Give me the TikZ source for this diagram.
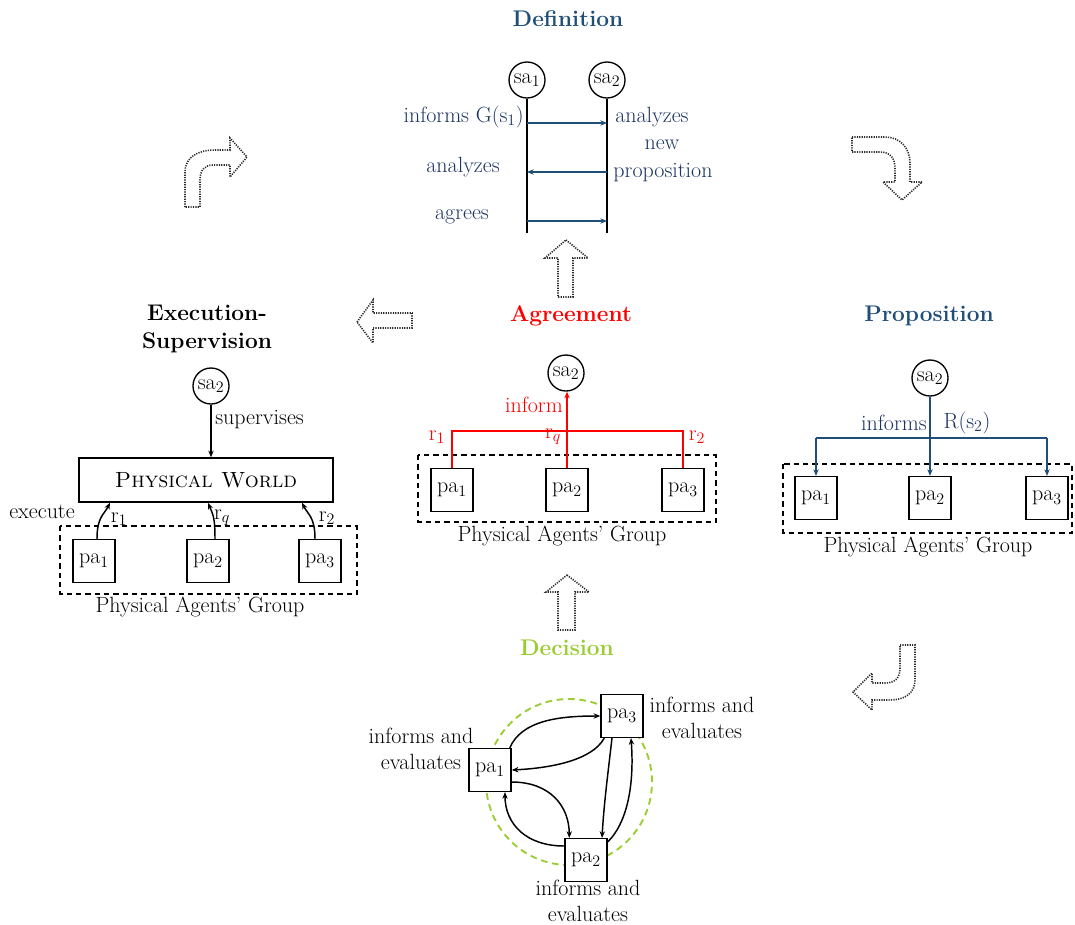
\documentclass[tikz,border=0pt]{standalone}
\usetikzlibrary{arrows.meta,calc}
\definecolor{navy}{RGB}{31,78,121}
\definecolor{navytext}{RGB}{28,52,98}
\definecolor{leaf}{RGB}{154,205,50}
\definecolor{hollow}{RGB}{45,45,45}

\begin{document}
\begin{tikzpicture}[x=0.75pt,y=-0.75pt,
  txt/.style={font=\fontsize{16.5}{19}\selectfont, inner sep=0pt},
  ttl/.style={font=\fontsize{17}{21}\selectfont\bfseries, inner sep=0pt, align=center},
  pabox/.style={draw, line width=1.1pt, minimum width=31.5pt, minimum height=32pt, inner sep=0pt, font=\fontsize{16.5}{19}\selectfont},
  sanode/.style={circle, draw, line width=1pt, minimum size=27pt, inner sep=0pt, font=\fontsize{16.5}{19}\selectfont},
  group/.style={draw, line width=0.9pt, dash pattern=on 4pt off 3pt},
  tip/.style={-{Stealth[length=5pt,width=4pt]}},
  link/.style={line width=1.1pt},
  hollowarrow/.style={draw=hollow, line width=1.2pt, dash pattern=on 0.9pt off 0.9pt, line join=miter},
  pair/.style={txt, align=center, font=\fontsize{16.5}{19.5}\selectfont},
]
\useasboundingbox (0,0) rectangle (1075,925);
\fill[white] (0,0) rectangle (1075,925);

% ---------------- Definition ----------------
\node[ttl, text=navy] (tdef) at (568,19) {Definition};
\node[sanode] (s1) at (527,80) {sa$_1$};
\node[sanode] (s2) at (607,80) {sa$_2$};
\coordinate (e1) at (527,233);
\coordinate (e2) at (607,233);
\draw[line width=1.3pt] (s1.south) -- (e1);
\draw[line width=1.3pt] (s2.south) -- (e2);
\draw[link, navy, tip] (s1.south |- 0,123) -- (s2.south |- 0,123);
\draw[link, navy, tip] (s2.south |- 0,172) -- (s1.south |- 0,172);
\draw[link, navy, tip] (s1.south |- 0,221) -- (s2.south |- 0,221);
\node[txt, text=navytext, anchor=east] (l1) at (524,117) {informs G(s$_1$)};
\node[txt, text=navytext, anchor=west] (l2) at (615,117) {analyzes};
\node[txt, text=navytext] (l3) at (662,145) {new};
\node[txt, text=navytext] (l4) at (663,173) {proposition};
\node[txt, text=navytext] (l5) at (463,167) {analyzes};
\node[txt, text=navytext] (l6) at (462,217) {agrees};

% ---------------- Agreement ----------------
\node[ttl, text=red] (tagr) at (571,316) {Agreement};
\node[sanode] (as) at (566,373) {sa$_2$};
\draw[group] (418,455) rectangle (716,522);
\node[pabox] (ap1) at (452,490) {pa$_1$};
\node[pabox] (ap2) at (567,490) {pa$_2$};
\node[pabox] (ap3) at (683,490) {pa$_3$};
\draw[link, red] (ap1.north) |- (ap3.north |- 0,431) -- (ap3.north);
\draw[link, red, tip] (ap2.north) -- (ap2.north |- as.south);
\node[txt, text=red, anchor=east] (ainf) at (563,405) {inform};
\node[txt, text=red] (ar1) at (437,437) {r$_1$};
\node[txt, text=red] (arq) at (553,437) {r$_q$};
\node[txt, text=red] (ar2) at (697,437) {r$_2$};
\node[txt] (ag) at (562,536) {Physical Agents' Group};

% ---------------- Proposition ----------------
\node[ttl, text=navy] (tprop) at (929,316) {Proposition};
\node[sanode] (ps) at (930,378) {sa$_2$};
\draw[group] (783,464) rectangle (1072,533);
\node[pabox] (pp1) at (816,498) {pa$_1$};
\node[pabox] (pp2) at (930,498) {pa$_2$};
\node[pabox] (pp3) at (1047,498) {pa$_3$};
\draw[link, navy] (ps.south) -- (ps.south |- 0,438);
\draw[link, navy] (pp1.north |- 0,438) -- (pp3.north |- 0,438);
\draw[link, navy, tip] (pp1.north |- 0,438) -- (pp1.north);
\draw[link, navy, tip] (pp2.north |- 0,438) -- (pp2.north);
\draw[link, navy, tip] (pp3.north |- 0,438) -- (pp3.north);
\node[txt, text=navytext, anchor=east] (pinf) at (927,423) {informs};
\node[txt, text=navytext] (pr) at (967,423) {R(s$_2$)};
\node[txt] (pg) at (928,547) {Physical Agents' Group};

% ---------------- Execution-Supervision ----------------
\node[ttl] (texe) at (207,329) {Execution-\\Supervision};
\node[sanode] (es) at (211,386) {sa$_2$};
\node[draw, line width=1.1pt, minimum width=190.5pt, minimum height=33pt, inner sep=0pt,
      font=\fontsize{16.5}{19}\selectfont] (pw) at (206,480) {\textsc{Physical World}};
\draw[link, tip] (es.south) -- (es.south |- pw.north);
\node[txt, anchor=west] (sup) at (215,420) {supervises};
\draw[group] (60,526) rectangle (357,594);
\node[pabox] (ep1) at (94,561) {pa$_1$};
\node[pabox] (ep2) at (208,561) {pa$_2$};
\node[pabox] (ep3) at (320,561) {pa$_3$};
\draw[link, tip] ([xshift=2.25pt]ep1.north) .. controls +(0,-22) and +(-6,12) .. (pw.south -| 110,0);
\draw[link, tip] ([xshift=5.25pt]ep2.north) .. controls +(0,-22) and +(5,12) .. (pw.south -| 208,0);
\draw[link, tip] ([xshift=-3.75pt]ep3.north) .. controls +(0,-22) and +(6,12) .. (pw.south -| 302,0);
\node[txt] (exe) at (42,512) {execute};
\node[txt] (er1) at (119,519) {r$_1$};
\node[txt] (erq) at (222,518) {r$_q$};
\node[txt] (er2) at (327,518) {r$_2$};
\node[txt] (eg) at (200,607) {Physical Agents' Group};

% ---------------- Decision ----------------
\node[ttl, text=leaf] (tdec) at (567,648) {Decision};
\draw[leaf, line width=1.4pt, dash pattern=on 5pt off 3.5pt] (569,782) circle[radius=62.25pt];
\node[pabox, fill=white] (dp3) at (622,716) {pa$_3$};
\node[pabox, fill=white] (dp1) at (490,770) {pa$_1$};
\node[pabox, fill=white] (dp2) at (586,860) {pa$_2$};
\draw[link, tip] ([xshift=-1.5pt]dp1.north east) .. controls +(12,-28) and +(-40,0) .. (dp3.west);
\draw[link, tip] ([xshift=3pt]dp3.south west) .. controls +(-12,22) and +(40,-2) .. (dp1.east);
\draw[link, tip] ([yshift=-9pt]dp1.east) .. controls +(38,0) and +(0,-32) .. ([xshift=3.75pt]dp2.north west);
\draw[link, tip] ([yshift=10.5pt]dp2.west) .. controls +(-38,0) and +(0,32) .. ([xshift=11.25pt]dp1.south);
\draw[link, tip] ([xshift=-7.5pt]dp3.south) .. controls +(-4,35) and +(2,-35) .. ([xshift=12pt]dp2.north);
\draw[link, tip] ([yshift=-3pt]dp2.north east) .. controls +(22,-22) and +(3,40) .. ([xshift=6.75pt]dp3.south);
\node[pair] (d1) at (421,749) {informs and\\evaluates};
\node[pair] (d3) at (702,718) {informs and\\evaluates};
\node[pair] (d2) at (588,901) {informs and\\evaluates};

% ---------------- hollow dotted flow arrows ----------------
% curved, top left
\path[hollowarrow] (185,207) -- (185,172) .. controls (185,157) and (198,150) .. (215,150)
  -- (230,150) -- (230,138) -- (247,157) -- (230,177) -- (230,165) -- (213,165)
  .. controls (205,165) and (200,170) .. (200,180) -- (200,207) -- cycle;
% curved, top right
\path[hollowarrow] (852,137) -- (885,137) .. controls (900,137) and (910,148) .. (910,163)
  -- (910,182) -- (922,182) -- (902,200) -- (883,182) -- (895,182) -- (895,168)
  .. controls (895,158) and (890,152) .. (880,152) -- (852,152) -- cycle;
% curved, bottom right
\path[hollowarrow] (900,645) -- (915,645) -- (915,680) .. controls (915,693) and (905,700) .. (890,700)
  -- (872,700) -- (872,710) -- (853,692) -- (872,673) -- (872,683) -- (885,683)
  .. controls (895,683) and (900,678) .. (900,668) -- cycle;
% straight, pointing left
\path[hollowarrow] (357,322) -- (373,300) -- (373,313) -- (412,313) -- (412,328) -- (373,328) -- (373,343) -- cycle;
% straight, pointing up (below Definition)
\path[hollowarrow] (566,240) -- (588,258) -- (573,258) -- (573,297) -- (558,297) -- (558,258) -- (545,258) -- cycle;
% straight, pointing up (above Decision)
\path[hollowarrow] (567,575) -- (589,592) -- (575,592) -- (575,630) -- (558,630) -- (558,592) -- (546,592) -- cycle;
\end{tikzpicture}
\end{document}
